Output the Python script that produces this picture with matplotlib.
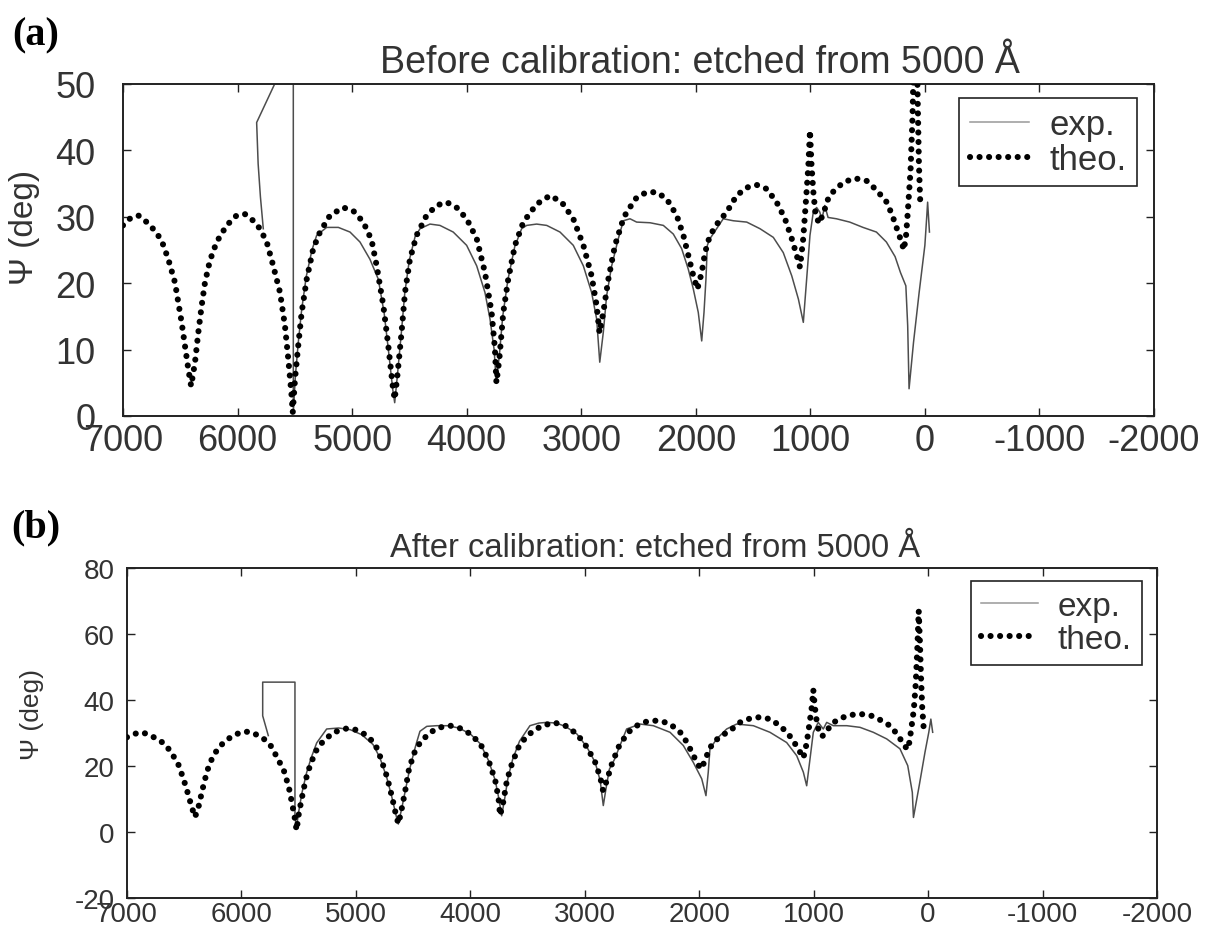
"""
Ellipsometric angle Psi versus etch depth, before and after calibration.
Two stacked panels: (a) raw measurement, (b) calibrated measurement,
both compared against the theoretical curve.
"""

import matplotlib
matplotlib.use("Agg")
import matplotlib.pyplot as plt

plt.rcParams['font.family'] = ['Liberation Sans', 'DejaVu Sans']
plt.rcParams['axes.unicode_minus'] = False

# Theoretical Psi (deg) vs depth (Angstrom), same in both panels
THEO_DEPTH = [7000, 6940, 6866, 6793, 6721, 6662, 6604, 6546, 6488, 6459,
              6430, 6405, 6371, 6342, 6313, 6284, 6241, 6182, 6095, 6008,
              5935, 5862, 5804, 5745, 5688, 5629, 5586, 5557, 5530, 5518,
              5498, 5470, 5440, 5396, 5339, 5280, 5193, 5077, 4990, 4902,
              4830, 4785, 4727, 4684, 4645, 4628, 4605, 4568, 4538, 4495,
              4437, 4350, 4262, 4175, 4088, 4000, 3912, 3840, 3782, 3753,
              3740, 3715, 3680, 3637, 3578, 3505, 3389, 3272, 3170, 3069,
              2981, 2909, 2865, 2840, 2807, 2763, 2705, 2632, 2603, 2516,
              2429, 2341, 2254, 2166, 2108, 2065, 2021, 1986, 1948, 1919,
              1876, 1803, 1730, 1643, 1555, 1468, 1381, 1294, 1221, 1162,
              1119, 1090, 1062, 1041, 1017, 1003, 990, 975, 955, 925,
              885, 850, 799, 711, 610, 508, 421, 333, 284, 230,
              200, 184, 165, 150, 125, 108, 95, 82, 72, 62,
              52, 40]
THEO_PSI = [28.7, 29.7, 30.2, 29.2, 27.9, 26.4, 23.6, 20.1, 14.1, 10.6,
            7.1, 4.5, 8.1, 12.6, 16.6, 20.1, 23.4, 26.2, 28.7, 30.2,
            30.4, 29.4, 28.2, 26.2, 22.6, 18.6, 13.6, 8.6, 3.5, 0.5,
            5.6, 10.6, 15.6, 20.6, 25.2, 27.7, 30.2, 31.4, 30.9, 29.2,
            26.5, 22.6, 16.6, 10.6, 4.5, 2.5, 6.0, 12.6, 18.6, 23.6,
            27.2, 30.2, 31.7, 32.2, 31.4, 29.7, 26.7, 21.6, 15.6, 10.1,
            5.0, 8.5, 15.6, 20.6, 25.7, 29.2, 31.9, 33.2, 32.2, 29.7,
            25.7, 21.1, 16.6, 12.5, 15.6, 20.6, 25.7, 29.7, 30.7, 32.9,
            33.7, 33.7, 32.7, 30.2, 27.2, 24.2, 21.1, 19.1, 21.6, 24.6,
            27.2, 29.2, 30.7, 33.2, 34.4, 34.8, 34.2, 32.2, 29.7, 26.7,
            24.2, 22.4, 26.7, 31.7, 37.7, 43.0, 38.0, 34.0, 30.5, 29.0,
            30.5, 32.5, 33.8, 35.2, 35.8, 35.4, 34.0, 32.2, 30.2, 27.5,
            26.0, 25.0, 27.0, 30.5, 37.0, 45.0, 55.0, 67.0, 58.0, 47.0,
            38.0, 32.0]

# Measured Psi before calibration (panel a)
EXP_A_DEPTH = [5775, 5800, 5820, 5833, 5513, 5513, 5495, 5470, 5440, 5400,
               5350, 5309, 5222, 5120, 5018, 4931, 4844, 4771, 4720, 4680,
               4645, 4628, 4605, 4570, 4540, 4500, 4450, 4407, 4320, 4233,
               4117, 4000, 3912, 3840, 3796, 3760, 3742, 3715, 3685, 3640,
               3580, 3520, 3476, 3389, 3301, 3185, 3069, 2981, 2909, 2865,
               2838, 2807, 2778, 2734, 2676, 2632, 2574, 2516, 2399, 2283,
               2196, 2123, 2065, 2021, 1978, 1948, 1928, 1911, 1899, 1876,
               1818, 1760, 1672, 1555, 1439, 1323, 1236, 1162, 1104, 1061,
               1032, 1003, 974, 945, 917, 900, 874, 845, 772, 656,
               540, 423, 336, 260, 213, 166, 150, 138, 99, 50,
               0, -17, -24, -40]
EXP_A_PSI = [28.2, 33.0, 38.0, 44.2, 56.0, 0.5, 6.0, 11.0, 16.0, 21.0,
             25.0, 27.2, 28.4, 28.4, 27.7, 26.2, 23.6, 20.6, 15.5, 9.5,
             4.0, 2.0, 6.0, 12.5, 18.5, 23.5, 27.0, 28.2, 28.9, 28.7,
             27.7, 25.7, 22.6, 18.6, 14.6, 10.0, 5.2, 9.0, 15.0, 20.5,
             25.5, 28.2, 28.7, 28.9, 28.7, 27.7, 25.7, 22.6, 18.6, 14.6,
             8.1, 12.6, 18.1, 22.6, 26.7, 29.4, 29.7, 29.2, 29.1, 28.7,
             27.4, 25.2, 22.1, 19.1, 15.6, 11.3, 15.6, 20.6, 25.7, 26.7,
             28.2, 29.7, 29.4, 29.2, 28.2, 26.9, 24.6, 21.1, 17.6, 14.1,
             20.6, 27.2, 30.7, 31.4, 30.7, 29.5, 31.7, 29.9, 29.7, 29.2,
             28.4, 27.7, 26.2, 24.0, 21.6, 19.6, 13.6, 4.1, 11.1, 18.6,
             25.7, 30.2, 32.2, 27.7]

# Measured Psi after calibration (panel b)
EXP_B_DEPTH = [5765, 5814, 5814, 5532, 5532, 5520, 5500, 5470, 5430, 5390,
               5342, 5255, 5150, 5050, 4950, 4850, 4790, 4730, 4685, 4645,
               4629, 4600, 4565, 4530, 4490, 4470, 4440, 4380, 4294, 4200,
               4100, 4000, 3912, 3840, 3782, 3750, 3726, 3700, 3670, 3630,
               3570, 3479, 3400, 3333, 3250, 3170, 3069, 2981, 2909, 2865,
               2838, 2815, 2785, 2740, 2692, 2634, 2517, 2401, 2255, 2139,
               2052, 1978, 1941, 1921, 1906, 1847, 1760, 1673, 1527, 1382,
               1236, 1148, 1090, 1061, 1032, 1003, 960, 916, 886, 828,
               711, 595, 479, 362, 246, 178, 138, 128, 78, 27,
               -6, -24, -40]
EXP_B_PSI = [29.2, 35.2, 45.4, 45.4, 5.0, 1.0, 6.0, 12.0, 18.0, 22.5,
             27.0, 31.2, 31.5, 31.0, 29.5, 26.5, 22.5, 16.5, 10.5, 4.5,
             2.4, 7.0, 13.0, 19.0, 24.5, 27.0, 30.5, 32.0, 32.2, 32.2,
             31.5, 29.7, 26.7, 21.6, 15.6, 10.0, 4.9, 10.0, 16.5, 22.0,
             27.5, 32.2, 33.0, 33.2, 33.0, 32.0, 29.7, 25.7, 21.1, 15.5,
             8.0, 13.0, 19.0, 22.0, 26.2, 31.2, 32.7, 32.2, 30.2, 26.2,
             21.1, 16.1, 11.0, 18.1, 25.2, 28.2, 31.2, 32.7, 32.2, 30.2,
             27.1, 23.1, 18.1, 14.0, 22.1, 30.2, 33.2, 31.2, 33.2, 32.2,
             32.2, 31.7, 30.2, 28.2, 25.2, 20.1, 12.0, 4.4, 14.0, 24.2,
             30.2, 34.2, 30.2]

X_TICKS = [7000, 6000, 5000, 4000, 3000, 2000, 1000, 0, -1000, -2000]
Y_TICKS_A = [0, 10, 20, 30, 40, 50]
Y_TICKS_B = [-20, 0, 20, 40, 60, 80]

TITLE_A = "Before calibration: etched from 5000 \u00c5"
TITLE_B = "After calibration: etched from 5000 \u00c5"


def draw_panel(ax, exp_x, exp_y, ylim, yticks, title, title_x,
               tick_fs, ytick_pad, xtick_pad, title_fs, legend_fs, legend_anchor):
    ax.plot(exp_x, exp_y, color='#4d4d4d', lw=1.1, label='exp.', zorder=2)
    ax.plot(THEO_DEPTH, THEO_PSI, color='black', lw=4.4,
            linestyle=(0, (0.01, 1.55)), dash_capstyle='round',
            label='theo.', zorder=3)

    ax.set_xlim(7000, -2000)
    ax.set_ylim(*ylim)
    ax.set_xticks(X_TICKS)
    ax.set_yticks(yticks)
    ax.tick_params(direction='in', top=True, right=True, length=6, width=1,
                   colors='#222222', labelcolor='#333333', labelsize=tick_fs)
    ax.tick_params(axis='y', pad=ytick_pad)
    ax.tick_params(axis='x', pad=xtick_pad)
    for sp in ax.spines.values():
        sp.set_linewidth(1.4)
        sp.set_color('#222222')

    ax.text(title_x, 1.035, title, transform=ax.transAxes, ha='center',
            va='baseline', fontsize=title_fs, color='#333333')

    leg = ax.legend(loc='upper right', bbox_to_anchor=legend_anchor,
                    borderaxespad=0, fontsize=legend_fs, fancybox=False,
                    framealpha=1, edgecolor='#222222', handlelength=1.7,
                    handletextpad=0.6, borderpad=0.3, labelspacing=0.05)
    leg.get_frame().set_linewidth(1.2)
    for t in leg.get_texts():
        t.set_color('#333333')
    leg.get_lines()[0].set_color('#999999')


def make_figure(save_path="out.png"):
    fig = plt.figure(figsize=(12.09, 9.37), dpi=100)

    ax_a = fig.add_axes([0.1017, 0.5550, 0.8528, 0.3543])
    ax_b = fig.add_axes([0.1050, 0.0406, 0.8520, 0.3522])

    draw_panel(ax_a, EXP_A_DEPTH, EXP_A_PSI, (0, 50), Y_TICKS_A, TITLE_A, 0.56,
               tick_fs=26, ytick_pad=20, xtick_pad=5, title_fs=27,
               legend_fs=25, legend_anchor=(0.9835, 0.958))
    draw_panel(ax_b, EXP_B_DEPTH, EXP_B_PSI, (-20, 80), Y_TICKS_B, TITLE_B, 0.513,
               tick_fs=20, ytick_pad=9, xtick_pad=2.5, title_fs=23.5,
               legend_fs=24, legend_anchor=(0.9854, 0.9606))

    ax_a.set_ylabel("\u03a8 (deg)", fontsize=24, color='#333333')
    ax_a.yaxis.set_label_coords(-0.08, 0.57)
    ax_b.set_ylabel("\u03a8 (deg)", fontsize=19, color='#333333')
    ax_b.yaxis.set_label_coords(-0.081, 0.56)

    fig.text(0.010, 0.962, "(a)", fontsize=29, fontweight='bold',
             family=['Liberation Serif', 'DejaVu Serif'], va='center')
    fig.text(0.009, 0.437, "(b)", fontsize=29, fontweight='bold',
             family=['Liberation Serif', 'DejaVu Serif'], va='center')

    fig.savefig(save_path, dpi=100)
    return fig


if __name__ == "__main__":
    make_figure("out.png")
